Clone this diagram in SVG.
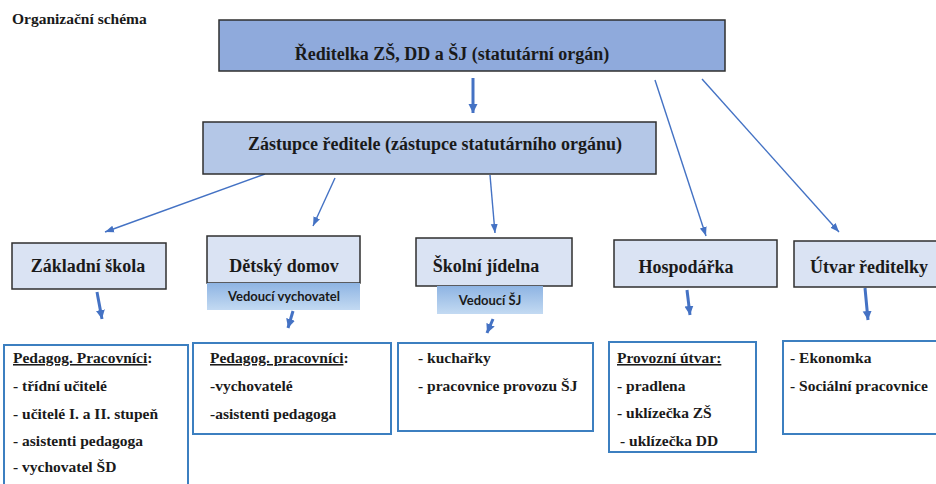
<svg xmlns="http://www.w3.org/2000/svg" width="936" height="484" viewBox="0 0 936 484">
<style>
.t{font-family:'Liberation Serif','Times New Roman',Times,'DejaVu Serif',serif;font-weight:bold;fill:#1a1a1a}
.h{font-size:18px;text-anchor:middle}
.b{font-size:15.5px}
.s{font-family:Lato,'Liberation Sans',sans-serif;font-weight:bold;font-size:13px;text-anchor:middle;fill:#1a1a1a}
.n{stroke:#2f2f2f;stroke-width:1.5}
.l{fill:#fff;stroke:#3c7fc0;stroke-width:2}
.thin{stroke:#4472c4;stroke-width:1.4;fill:none;marker-end:url(#ah)}
.thick{stroke:#4472c4;stroke-width:3;fill:none;marker-end:url(#ahb)}
</style>
<defs>
<marker id="ah" markerUnits="userSpaceOnUse" markerWidth="10" markerHeight="10" refX="9" refY="5" orient="auto"><path d="M0,1.5 L9,5 L0,8.5 Z" fill="#4472c4"/></marker>
<marker id="ahb" markerUnits="userSpaceOnUse" markerWidth="10" markerHeight="10" refX="9" refY="5" orient="auto"><path d="M0,0.5 L9,5 L0,9.5 Z" fill="#4472c4"/></marker>
<linearGradient id="g" x1="0" y1="0" x2="0" y2="1"><stop offset="0" stop-color="#8eb4e3"/><stop offset="1" stop-color="#c3daf2"/></linearGradient>
</defs>
<rect width="936" height="484" fill="#fff"/>
<text class="t" x="12" y="24" font-size="15.5">Organizační schéma</text>

<g id="connectors">
<line class="thick" x1="473" y1="78" x2="473" y2="113"/>
<line class="thin" x1="265" y1="174" x2="105" y2="232"/>
<line class="thin" x1="335" y1="178" x2="313" y2="226"/>
<line class="thin" x1="490" y1="175" x2="495" y2="233"/>
<line class="thin" x1="655" y1="80" x2="706" y2="236"/>
<line class="thin" x1="702" y1="79" x2="839" y2="232"/>
<line class="thick" x1="97" y1="292" x2="102" y2="319"/>
<line class="thick" x1="293" y1="311" x2="288" y2="328"/>
<line class="thick" x1="493" y1="319" x2="487" y2="333"/>
<line class="thick" x1="687" y1="290" x2="690" y2="315"/>
<line class="thick" x1="865" y1="288" x2="868" y2="320"/>
</g>

<g id="reditelka">
<rect class="n" x="219" y="20" width="506" height="51" fill="#8faadc"/>
<text class="t h" x="452" y="60">Ředitelka ZŠ, DD a ŠJ (statutární orgán)</text>
</g>
<g id="zastupce">
<rect class="n" x="203" y="122" width="453" height="52" fill="#b4c7e7"/>
<text class="t h" x="435" y="150">Zástupce ředitele (zástupce statutárního orgánu)</text>
</g>

<g id="zakladni-skola">
<rect class="n" x="12" y="243" width="154" height="46" fill="#dae3f3"/>
<text class="t h" x="88" y="272">Základní škola</text>
</g>
<g id="detsky-domov">
<rect class="n" x="207" y="236" width="153" height="47" fill="#dae3f3"/>
<text class="t h" x="284" y="272">Dětský domov</text>
<rect x="207" y="283" width="153" height="27" fill="url(#g)"/>
<text class="s" x="284" y="301">Vedoucí vychovatel</text>
</g>
<g id="skolni-jidelna">
<rect class="n" x="416" y="238" width="156" height="48" fill="#dae3f3"/>
<text class="t h" x="486" y="272">Školní jídelna</text>
<rect x="437" y="286" width="106" height="28" fill="url(#g)"/>
<text class="s" x="490" y="305">Vedoucí ŠJ</text>
</g>
<g id="hospodarka">
<rect class="n" x="614" y="240" width="163" height="47" fill="#dae3f3"/>
<text class="t h" x="686" y="273">Hospodářka</text>
</g>
<g id="utvar-reditelky">
<rect class="n" x="794" y="241" width="160" height="46" fill="#dae3f3"/>
<text class="t h" x="869" y="273">Útvar ředitelky</text>
</g>

<g id="zs-pracovnici">
<rect class="l" x="4" y="345" width="184" height="150"/>
<text class="t b" x="13" y="363"><tspan text-decoration="underline">Pedagog. Pracovníci</tspan>:</text>
<text class="t b" x="13" y="391">- třídní učitelé</text>
<text class="t b" x="13" y="419">- učitelé I. a II. stupeň</text>
<text class="t b" x="13" y="446">- asistenti pedagoga</text>
<text class="t b" x="13" y="472">- vychovatel ŠD</text>
</g>
<g id="dd-pracovnici">
<rect class="l" x="193" y="343" width="198" height="91"/>
<text class="t b" x="210" y="363"><tspan text-decoration="underline">Pedagog. pracovníci</tspan>:</text>
<text class="t b" x="210" y="391">-vychovatelé</text>
<text class="t b" x="210" y="419">-asistenti pedagoga</text>
</g>
<g id="sj-pracovnici">
<rect class="l" x="398" y="343" width="195" height="88"/>
<text class="t b" x="418" y="363">- kuchařky</text>
<text class="t b" x="418" y="391">- pracovnice provozu ŠJ</text>
</g>
<g id="provozni-utvar">
<rect class="l" x="609" y="342" width="147" height="110"/>
<text class="t b" x="617" y="363" text-decoration="underline">Provozní útvar:</text>
<text class="t b" x="617" y="391">- pradlena</text>
<text class="t b" x="617" y="418">- uklízečka ZŠ</text>
<text class="t b" x="620" y="446">- uklízečka DD</text>
</g>
<g id="utvar-pracovnici">
<rect class="l" x="783" y="341" width="160" height="93"/>
<text class="t b" x="790" y="363">- Ekonomka</text>
<text class="t b" x="790" y="391">- Sociální pracovnice</text>
</g>
</svg>
